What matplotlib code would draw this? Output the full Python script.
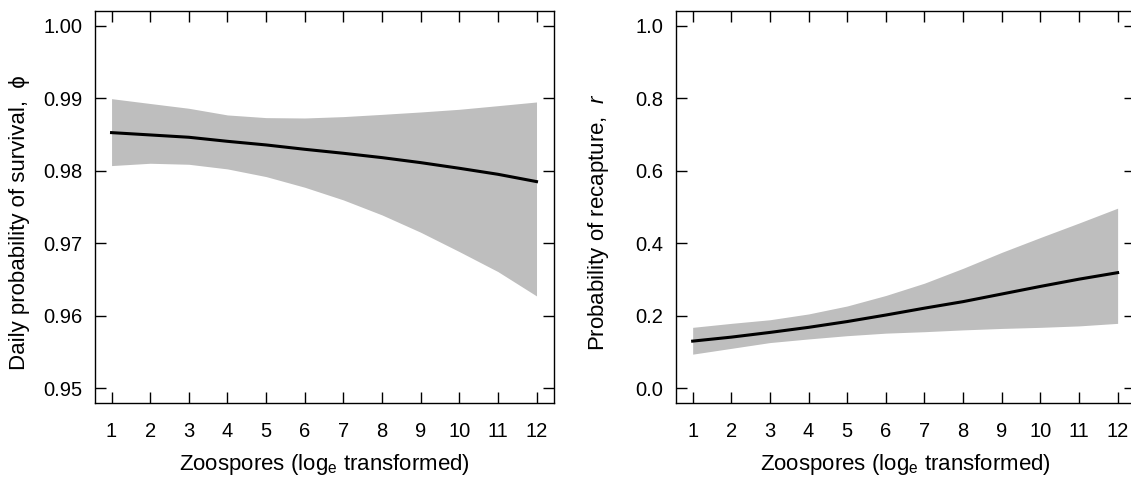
import numpy as np
import matplotlib
matplotlib.use("Agg")
import matplotlib.pyplot as plt

plt.rcParams["font.family"] = ["Liberation Sans", "DejaVu Sans"]
plt.rcParams["mathtext.fontset"] = "custom"
plt.rcParams["mathtext.rm"] = "Liberation Sans"
plt.rcParams["mathtext.it"] = "Liberation Sans:italic"

# zoospore load (log_e), shared by both panels
zoospores = [1, 2, 3, 4, 5, 6, 7, 8, 9, 10, 11, 12]

# daily survival phi: estimate and 95% band
phi_mean = [0.98528, 0.98496, 0.98464, 0.98408, 0.98358, 0.98298,
            0.98243, 0.98183, 0.98114, 0.98036, 0.97953, 0.97852]
phi_upper = [0.98997, 0.98930, 0.98864, 0.98772, 0.98735, 0.98730,
             0.98749, 0.98780, 0.98813, 0.98850, 0.98900, 0.98951]
phi_lower = [0.98073, 0.98105, 0.98091, 0.98027, 0.97921, 0.97774,
             0.97599, 0.97392, 0.97153, 0.96886, 0.96610, 0.96274]

# recapture probability r: estimate and 95% band
r_mean = [0.130, 0.141, 0.154, 0.168, 0.184, 0.202,
          0.221, 0.239, 0.260, 0.281, 0.301, 0.319]
r_upper = [0.168, 0.179, 0.189, 0.205, 0.227, 0.256,
           0.290, 0.331, 0.375, 0.416, 0.456, 0.497]
r_lower = [0.094, 0.110, 0.126, 0.136, 0.145, 0.152,
           0.156, 0.161, 0.165, 0.168, 0.172, 0.179]

phi_ticks = [0.95, 0.96, 0.97, 0.98, 0.99, 1.00]
r_ticks = [0.0, 0.2, 0.4, 0.6, 0.8, 1.0]

fig = plt.figure(figsize=(11.31, 4.79), dpi=100)
ax1 = fig.add_axes([0.0836, 0.1593, 0.4058, 0.8167])
ax2 = fig.add_axes([0.5974, 0.1593, 0.4058, 0.8167])

panels = [
    (ax1, phi_mean, phi_upper, phi_lower, phi_ticks, "%.2f",
     "Daily probability of survival,  \u03d5"),
    (ax2, r_mean, r_upper, r_lower, r_ticks, "%.1f",
     "Probability of recapture,  $\\mathit{r}$"),
]

for ax, mean, upper, lower, yticks, fmt, ylab in panels:
    ax.fill_between(zoospores, lower, upper, color="#bebebe", linewidth=0)
    ax.plot(zoospores, mean, color="black", linewidth=2.2)

    span = yticks[-1] - yticks[0]
    ax.set_ylim(yticks[0] - 0.04 * span, yticks[-1] + 0.04 * span)
    ax.set_xlim(1 - 0.04 * 11, 12 + 0.04 * 11)
    ax.set_xticks(zoospores)
    ax.set_yticks(yticks)
    ax.set_yticklabels([fmt % v for v in yticks])

    ax.tick_params(direction="in", length=8, width=1, top=True, right=True,
                   labelsize=14.5, colors="black")
    ax.tick_params(axis="x", pad=14)
    ax.tick_params(axis="y", pad=9)
    for sp in ax.spines.values():
        sp.set_linewidth(1)

    ax.set_xlabel("Zoospores (log$_\\mathrm{e}$ transformed)", fontsize=16)
    ax.set_ylabel(ylab, fontsize=16)
    ax.xaxis.set_label_coords(0.5, -0.125)
    ax.yaxis.set_label_coords(-0.14, 0.46)

fig.savefig("out.png", dpi=100)
